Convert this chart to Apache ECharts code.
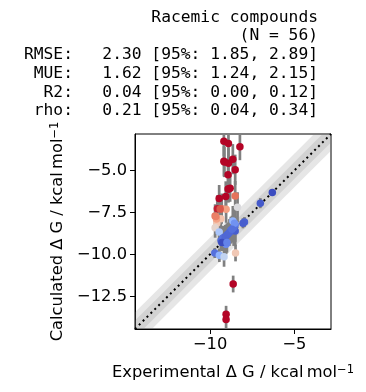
<!DOCTYPE html>
<html>
<head>
<meta charset="utf-8">
<script src="https://cdn.jsdelivr.net/npm/echarts@6/dist/echarts.min.js"></script>
<style>
html,body{margin:0;padding:0;background:#fff;}
#c{width:366px;height:392px;}
</style>
</head>
<body>
<div id="c"></div>
<script>
// ---- data ----
const expX = [-9.18,-8.91,-8.23,-8.65,-9.18,-8.91,-8.51,-8.93,-8.81,-8.93,-9.07,-9.46,-8.51,-8.37,-9.57,-9.31,-9.05,-9.70,-9.60,-9.36,-9.60,-9.70,-9.46,-8.65,-8.51,-8.77,-8.51,-7.96,-7.02,-6.31,-9.01,-9.21,-9.35,-9.05,-9.72,-9.45,-9.17,-8.49,-8.63,-9.05,-9.05,
  -9.25,-9.10,-8.95,-8.60,-8.55,-8.05,-9.30,-9.62,-9.66,-9.00,-8.85,-9.40,-8.90,-9.15,-8.70];
const calcY = [-3.26,-3.39,-3.59,-4.33,-4.46,-4.58,-4.96,-5.26,-6.07,-6.11,-6.55,-6.67,-6.53,-7.20,-7.28,-7.28,-7.32,-7.72,-7.88,-7.88,-8.15,-8.41,-8.67,-8.02,-8.26,-8.56,-8.61,-8.08,-6.95,-6.31,-8.87,-9.01,-9.17,-9.40,-9.92,-10.06,-10.14,-9.92,-11.77,-13.57,-13.89,
  -9.05,-8.95,-8.80,-8.40,-8.15,-8.15,-9.30,-7.90,-7.75,-9.30,-8.70,-7.30,-6.10,-4.50,-8.50];
const calcErr = [0.9,1.0,0.8,0.9,0.9,0.9,0.9,0.8,0.8,0.8,0.9,0.8,0.9,0.9,0.8,0.9,0.8,0.7,0.8,0.9,0.7,0.6,0.7,0.9,1.0,0.8,0.9,0.3,0.3,0.2,0.7,0.7,0.6,0.6,0.3,0.4,0.6,0.5,0.5,0.5,0.5,
  0.7,0.7,0.7,1.1,0.8,0.3,0.5,0.7,0.7,0.6,0.8,0.8,0.8,0.9,0.8];
const axisMin = -14.45, axisMax = -2.83;
const xTicks = [-10, -5];
const yTicks = [-12.5, -10, -7.5, -5];
const bandHalfWidths = [1.0, 0.5];
const titleLines = [
  "Racemic compounds",
  "(N = 56)",
  "RMSE:   2.30 [95%: 1.85, 2.89]",
  " MUE:   1.62 [95%: 1.24, 2.15]",
  "  R2:   0.04 [95%: 0.00, 0.12]",
  " rho:   0.21 [95%: 0.04, 0.34]"
];
const colorScale = 2.372; // 4 RT, kcal/mol

// ---- coolwarm colormap ----
const cw = [[59,76,192],[98,130,234],[141,176,254],[184,208,249],[221,220,220],[245,196,173],[244,154,123],[222,96,77],[180,4,38]];
function coolwarm(t){
  t = Math.max(0, Math.min(1, t));
  const f = t * (cw.length - 1);
  const i = Math.min(cw.length - 2, Math.floor(f));
  const u = f - i;
  const c = cw[i].map((v, k) => Math.round(v + (cw[i+1][k] - v) * u));
  return 'rgb(' + c.join(',') + ')';
}

const pts = expX.map((x, i) => [x, calcY[i], calcErr[i]]);
const fmtMinus = s => s.replace('-', '\u2212');

const chart = echarts.init(document.getElementById('c'), null, {renderer: 'canvas'});
const sans = 'DejaVu Sans';
const fs = 16.3;

chart.setOption({
  animation: false,
  backgroundColor: '#fff',
  grid: {left: 135, top: 134, width: 196, height: 195, show: true, borderColor: '#000', borderWidth: 1, backgroundColor: 'transparent'},
  xAxis: {
    type: 'value', min: axisMin, max: axisMax,
    name: 'Experimental \u0394 G / kcal\u2009mol{sup|\u22121}',
    nameLocation: 'middle', nameGap: 35,
    nameTextStyle: {fontFamily: sans, fontSize: fs, color: '#000', rich: {sup: {fontFamily: sans, fontSize: 11.5, color: '#000', verticalAlign: 'top', padding: [0,0,6,0]}}},
    axisLine: {show: true, onZero: false, lineStyle: {color: '#000', width: 1}},
    axisTick: {show: true, length: 5, lineStyle: {color: '#000', width: 1}, customValues: xTicks},
    axisLabel: {fontFamily: sans, fontSize: fs, color: '#000', margin: 8, customValues: xTicks, formatter: v => fmtMinus(String(v))},
    splitLine: {show: false}
  },
  yAxis: {
    type: 'value', min: axisMin, max: axisMax,
    name: 'Calculated \u0394 G / kcal\u2009mol{sup|\u22121}',
    nameLocation: 'middle', nameGap: 68, nameRotate: 90,
    nameTextStyle: {fontFamily: sans, fontSize: fs, color: '#000', rich: {sup: {fontFamily: sans, fontSize: 11.5, color: '#000', verticalAlign: 'top', padding: [0,0,6,0]}}},
    axisLine: {show: true, onZero: false, lineStyle: {color: '#000', width: 1}},
    axisTick: {show: true, length: 5, lineStyle: {color: '#000', width: 1}, customValues: yTicks},
    axisLabel: {fontFamily: sans, fontSize: fs, color: '#000', margin: 8, customValues: yTicks, formatter: v => fmtMinus(v.toFixed(1))},
    splitLine: {show: false}
  },
  graphic: titleLines.map((t, i) => ({
    type: 'text', x: 318, y: 17.5 + i * 18.7,
    style: {text: t, font: fs + 'px "DejaVu Sans Mono"', fill: '#000', textAlign: 'right', textVerticalAlign: 'middle'}
  })),
  series: [
    {
      type: 'custom', clip: true, z: 1, silent: true,
      data: bandHalfWidths,
      renderItem: (params, api) => {
        const w = api.value(0);
        const pts4 = [[axisMin, axisMin - w], [axisMax, axisMax - w], [axisMax, axisMax + w], [axisMin, axisMin + w]].map(p => api.coord(p));
        return {type: 'polygon', shape: {points: pts4}, style: {fill: 'rgba(128,128,128,0.2)'}};
      }
    },
    {
      type: 'line', z: 2, silent: true, symbol: 'none',
      data: [[axisMin, axisMin], [axisMax, axisMax]],
      lineStyle: {color: '#000', width: 2, type: [2, 3.5], cap: 'butt'}
    },
    {
      type: 'custom', clip: true, z: 3, silent: true,
      data: pts,
      renderItem: (params, api) => {
        const x = api.value(0), y = api.value(1), e = api.value(2);
        const a = api.coord([x, y - e]), b = api.coord([x, y + e]);
        return {type: 'line', shape: {x1: a[0], y1: a[1], x2: b[0], y2: b[1]}, style: {stroke: '#808080', lineWidth: 2.7}};
      }
    },
    {
      type: 'scatter', z: 4, silent: true, symbolSize: 7.5,
      data: pts.map(p => [p[0], p[1]]),
      itemStyle: {opacity: 1, color: params => coolwarm(Math.abs(params.value[0] - params.value[1]) / colorScale)}
    }
  ]
});
</script>
</body>
</html>
